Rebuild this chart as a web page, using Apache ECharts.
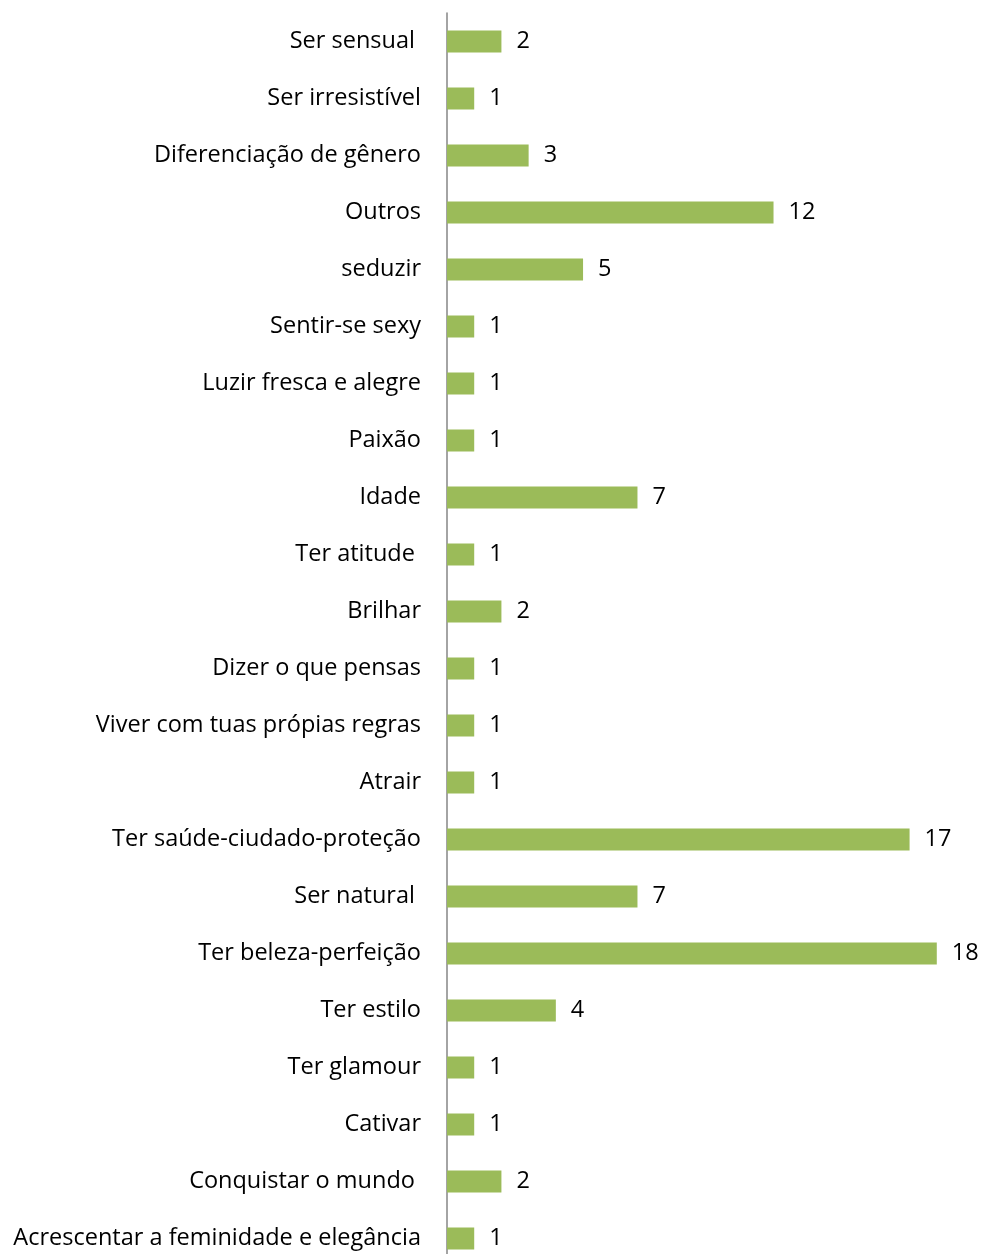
<!DOCTYPE html>
<html>
<head>
<meta charset="utf-8">
<script src="https://cdn.jsdelivr.net/npm/echarts@6/dist/echarts.min.js"></script>
<style>
  html, body { margin: 0; padding: 0; background: #fff; overflow: hidden; height: 1254px; }
  #chart { width: 985px; height: 1280px; }
</style>
</head>
<body>
<div id="chart"></div>
<script>
// Categories listed from top to bottom
const categories = [
  'Ser sensual ',
  'Ser irresistível',
  'Diferenciação de gênero',
  'Outros',
  'seduzir',
  'Sentir-se sexy',
  'Luzir fresca e alegre',
  'Paixão',
  'Idade',
  'Ter atitude ',
  'Brilhar',
  'Dizer o que pensas',
  'Viver com tuas própias regras',
  'Atrair',
  'Ter saúde-ciudado-proteção',
  'Ser natural ',
  'Ter beleza-perfeição',
  'Ter estilo',
  'Ter glamour',
  'Cativar',
  'Conquistar o mundo ',
  'Acrescentar a feminidade e elegância'
];

const counts = [2, 1, 3, 12, 5, 1, 1, 1, 7, 1, 2, 1, 1, 1, 17, 7, 18, 4, 1, 1, 2, 1];

const chart = echarts.init(document.getElementById('chart'), null, { renderer: 'canvas' });

const font = '"Open Sans", "Liberation Sans", sans-serif';

chart.setOption({
  animation: false,
  backgroundColor: '#ffffff',
  // the last row runs past the bottom edge of the visible page
  grid: { left: 447, width: 517, top: 13, height: 1254, containLabel: false },
  xAxis: {
    type: 'value',
    min: 0,
    max: 19,
    show: false
  },
  yAxis: {
    type: 'category',
    data: categories,
    inverse: true,
    axisLine: { show: true, lineStyle: { color: '#868686', width: 1.5 } },
    axisTick: { show: false },
    axisLabel: {
      margin: 26,
      color: '#000000',
      fontFamily: font,
      fontSize: 23.5
    },
    splitLine: { show: false }
  },
  series: [{
    type: 'bar',
    data: counts,
    barWidth: 22,
    itemStyle: { color: '#9BBB59' },
    label: {
      show: true,
      position: 'right',
      distance: 15,
      color: '#000000',
      fontFamily: font,
      fontSize: 23.5
    }
  }]
});
</script>
</body>
</html>
